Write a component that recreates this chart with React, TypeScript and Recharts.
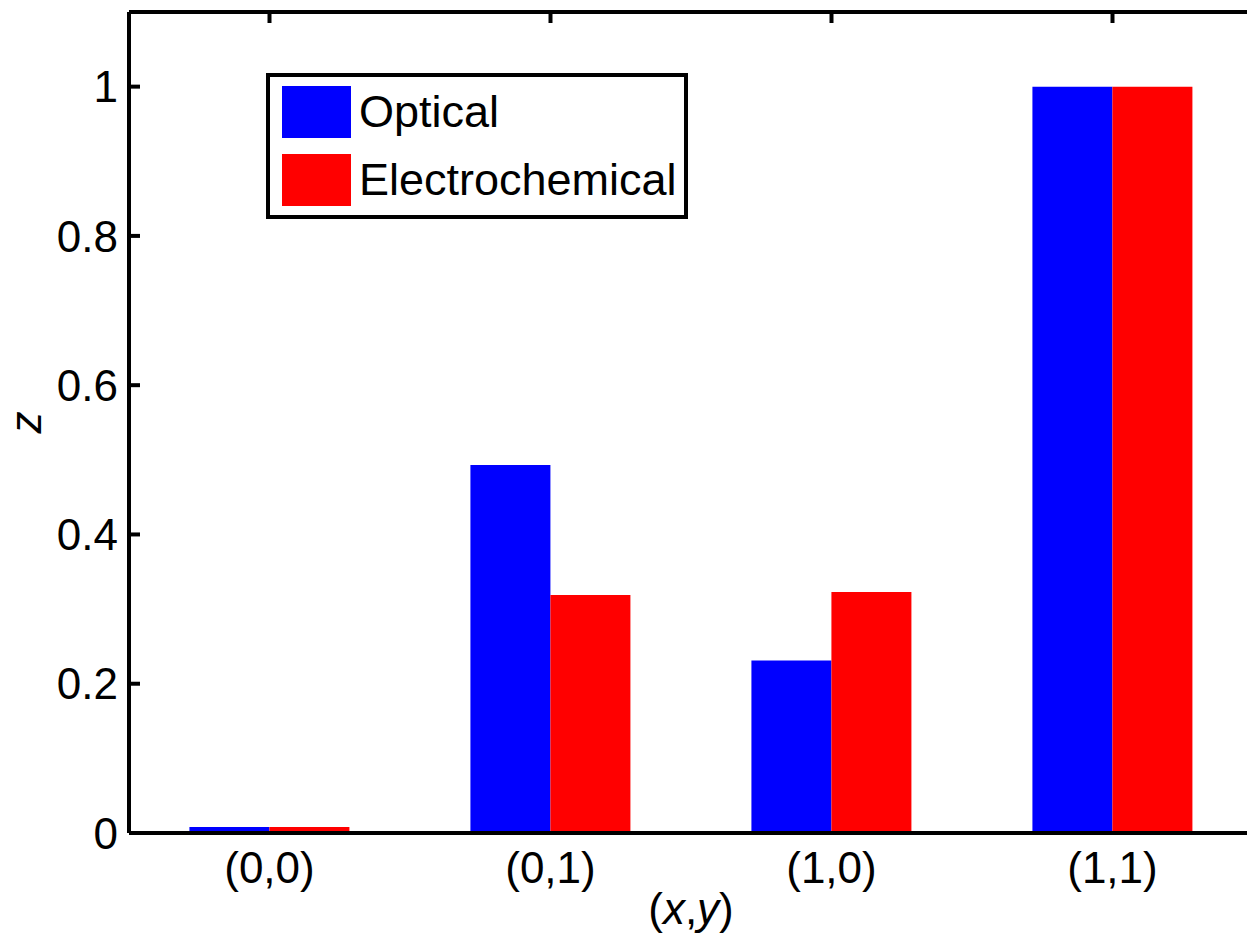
import { BarChart, Bar, XAxis, YAxis, Legend, Label } from 'recharts';

const categories = ['(0,0)', '(0,1)', '(1,0)', '(1,1)'];
const optical = [0.008, 0.493, 0.231, 1.0];
const electrochemical = [0.008, 0.319, 0.323, 1.0];
const yTicks = [0, 0.2, 0.4, 0.6, 0.8, 1];
const seriesNames = ['Optical', 'Electrochemical'];
const seriesColors = ['#0000ff', '#ff0000'];

const data = categories.map((name, i) => ({
  name,
  optical: optical[i],
  electrochemical: electrochemical[i],
}));

const FONT = '"Liberation Sans", Arial, Helvetica, sans-serif';
const axisLine = { stroke: '#000', strokeWidth: 4 };
const tickLine = { stroke: '#000', strokeWidth: 4 };
const tickText = { fill: '#000', fontSize: 44, fontFamily: FONT };

// legend order follows the series arrays (payload comes out reversed)
const LegendBox = () => (
  <div
    style={{
      boxSizing: 'border-box',
      width: 422,
      height: 146,
      border: '4px solid #000',
      background: '#fff',
      padding: '9px 0 0 12px',
      fontFamily: FONT,
      fontSize: 45,
      color: '#000',
    }}
  >
    {seriesNames.map((name, i) => (
      <div
        key={name}
        style={{ display: 'flex', alignItems: 'center', height: 52, marginTop: i ? 16 : 0 }}
      >
        <div style={{ width: 69, height: 52, background: seriesColors[i] }} />
        <span style={{ marginLeft: 8, lineHeight: '52px' }}>{name}</span>
      </div>
    ))}
  </div>
);

const XLabel = ({ viewBox }: any) => (
  <text
    x={viewBox.x + viewBox.width / 2}
    y={viewBox.y + 91}
    textAnchor="middle"
    fill="#000"
    fontSize={44}
    fontFamily={FONT}
  >
    <tspan>(</tspan>
    <tspan fontStyle="italic">x</tspan>
    <tspan>,</tspan>
    <tspan fontStyle="italic">y</tspan>
    <tspan>)</tspan>
  </text>
);

const YLabel = ({ viewBox }: any) => {
  const x = viewBox.x + 41;
  const y = viewBox.y + viewBox.height / 2;
  return (
    <text
      x={x}
      y={y}
      transform={`rotate(-90 ${x} ${y})`}
      textAnchor="middle"
      fill="#000"
      fontSize={44}
      fontFamily={FONT}
      fontStyle="italic"
    >
      z
    </text>
  );
};

export default function App() {
  return (
    <div
      style={{
        position: 'absolute',
        left: 0,
        top: 0,
        width: 1247,
        height: 938,
        overflow: 'hidden',
        background: '#fff',
      }}
    >
      <BarChart
        width={1261}
        height={938}
        data={data}
        margin={{ top: 0, right: 0, bottom: 0, left: 0 }}
        barCategoryGap="21.5%"
        barGap={0}
      >
        <XAxis
          xAxisId="bottom"
          dataKey="name"
          height={105}
          tickLine={false}
          axisLine={axisLine}
          tick={tickText}
          tickMargin={13}
          label={<Label content={<XLabel />} />}
        />
        <XAxis
          xAxisId="top"
          dataKey="name"
          orientation="top"
          height={12}
          tickSize={-11}
          tickLine={tickLine}
          axisLine={axisLine}
          tickFormatter={() => ''}
        />
        <YAxis
          yAxisId="left"
          width={129}
          domain={[0, 1.1]}
          ticks={yTicks}
          tickSize={-11}
          tickMargin={22}
          tickLine={tickLine}
          axisLine={axisLine}
          tick={tickText}
          label={<Label content={<YLabel />} />}
        />
        <YAxis
          yAxisId="right"
          orientation="right"
          width={8}
          domain={[0, 1.1]}
          ticks={yTicks}
          tickSize={-11}
          tickLine={tickLine}
          axisLine={axisLine}
          tickFormatter={() => ''}
        />
        <Legend
          layout="vertical"
          align="center"
          verticalAlign="middle"
          wrapperStyle={{ position: 'absolute', left: 266, top: 73, width: 'auto' }}
          content={<LegendBox />}
        />
        <Bar
          dataKey="optical"
          name={seriesNames[0]}
          xAxisId="bottom"
          yAxisId="left"
          fill={seriesColors[0]}
          isAnimationActive={false}
        />
        <Bar
          dataKey="electrochemical"
          name={seriesNames[1]}
          xAxisId="bottom"
          yAxisId="left"
          fill={seriesColors[1]}
          isAnimationActive={false}
        />
      </BarChart>
    </div>
  );
}
